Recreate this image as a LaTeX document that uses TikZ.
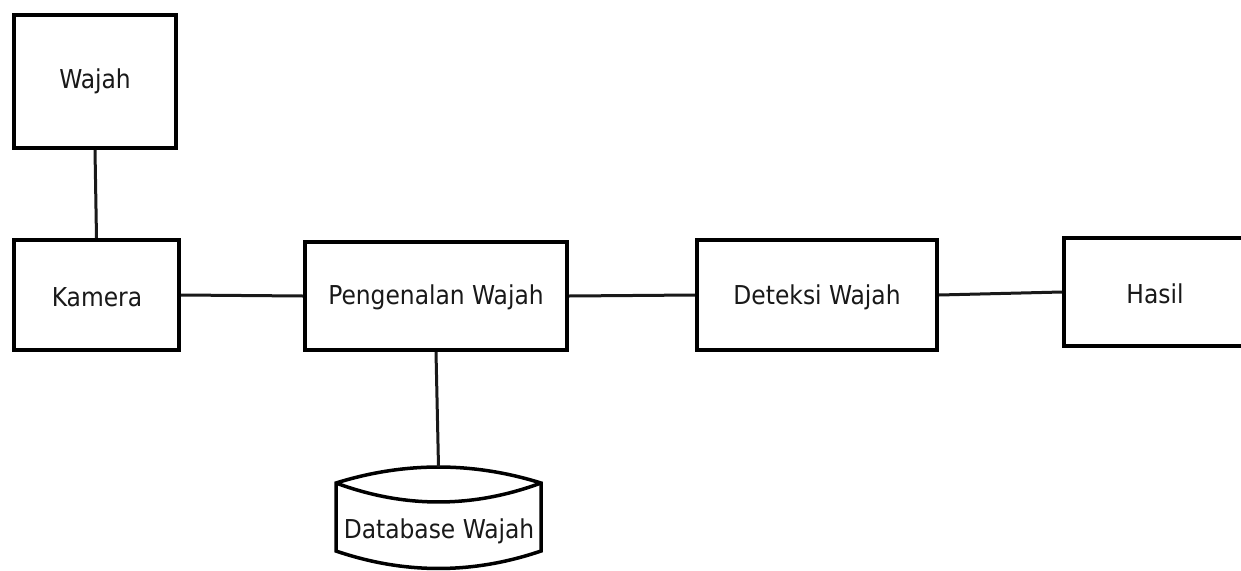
\documentclass[tikz,border=0pt]{standalone}
\usepackage{fontspec}
\setmainfont{DejaVu Sans Condensed}
\begin{document}
\begin{tikzpicture}[x=1pt,y=-1pt,
  box/.style={draw=black, line width=4pt, rectangle, inner sep=0pt, fill=white},
  lbl/.style={font=\fontsize{26}{30}\selectfont, text=black!90, inner sep=0pt},
  conn/.style={draw=black!90, line width=3pt}]
\fill[white] (0,0) rectangle (1241,570);
\useasboundingbox (0,0) rectangle (1241,570);
% boxes
\node[box, minimum width=162pt, minimum height=133pt] (wajah) at (95,81.5) {};
\node[lbl] at (95,81) {Wajah};
\node[box, minimum width=165pt, minimum height=110pt] (kamera) at (96.5,295) {};
\node[lbl] at (97,297) {Kamera};
\node[box, minimum width=262pt, minimum height=108pt] (peng) at (436,296) {};
\node[lbl] at (436,297) {Pengenalan Wajah};
\node[box, minimum width=240pt, minimum height=110pt] (det) at (817,295) {};
\node[lbl] at (817,297) {Deteksi Wajah};
\node[box, minimum width=216pt, minimum height=108pt] (hasil) at (1172,292) {};
\node[lbl] at (1155,294) {Hasil};
% database
\coordinate (dbl) at (336,483);
\coordinate (dbr) at (541,483);
\coordinate (dbtop) at (438.5,467);
\draw[line width=3.5pt, fill=white, line join=miter]
  (dbl) .. controls (404.3,461.7) and (472.7,461.7) .. (dbr) -- (541,551)
  .. controls (472.7,574.3) and (404.3,574.3) .. (336,551) -- cycle;
\draw[line width=3.5pt] (dbl) .. controls (404.3,508.3) and (472.7,508.3) .. (dbr);
\node[lbl] (db) at (439,531) {Database Wajah};
% connectors
\draw[conn] (wajah.south) -- (kamera.north);
\draw[conn] (kamera.east) -- (peng.west);
\draw[conn] (peng.east) -- (det.west);
\draw[conn] (det.east) -- (hasil.west);
\draw[conn] (peng.south) -- (dbtop);
\end{tikzpicture}
\end{document}
